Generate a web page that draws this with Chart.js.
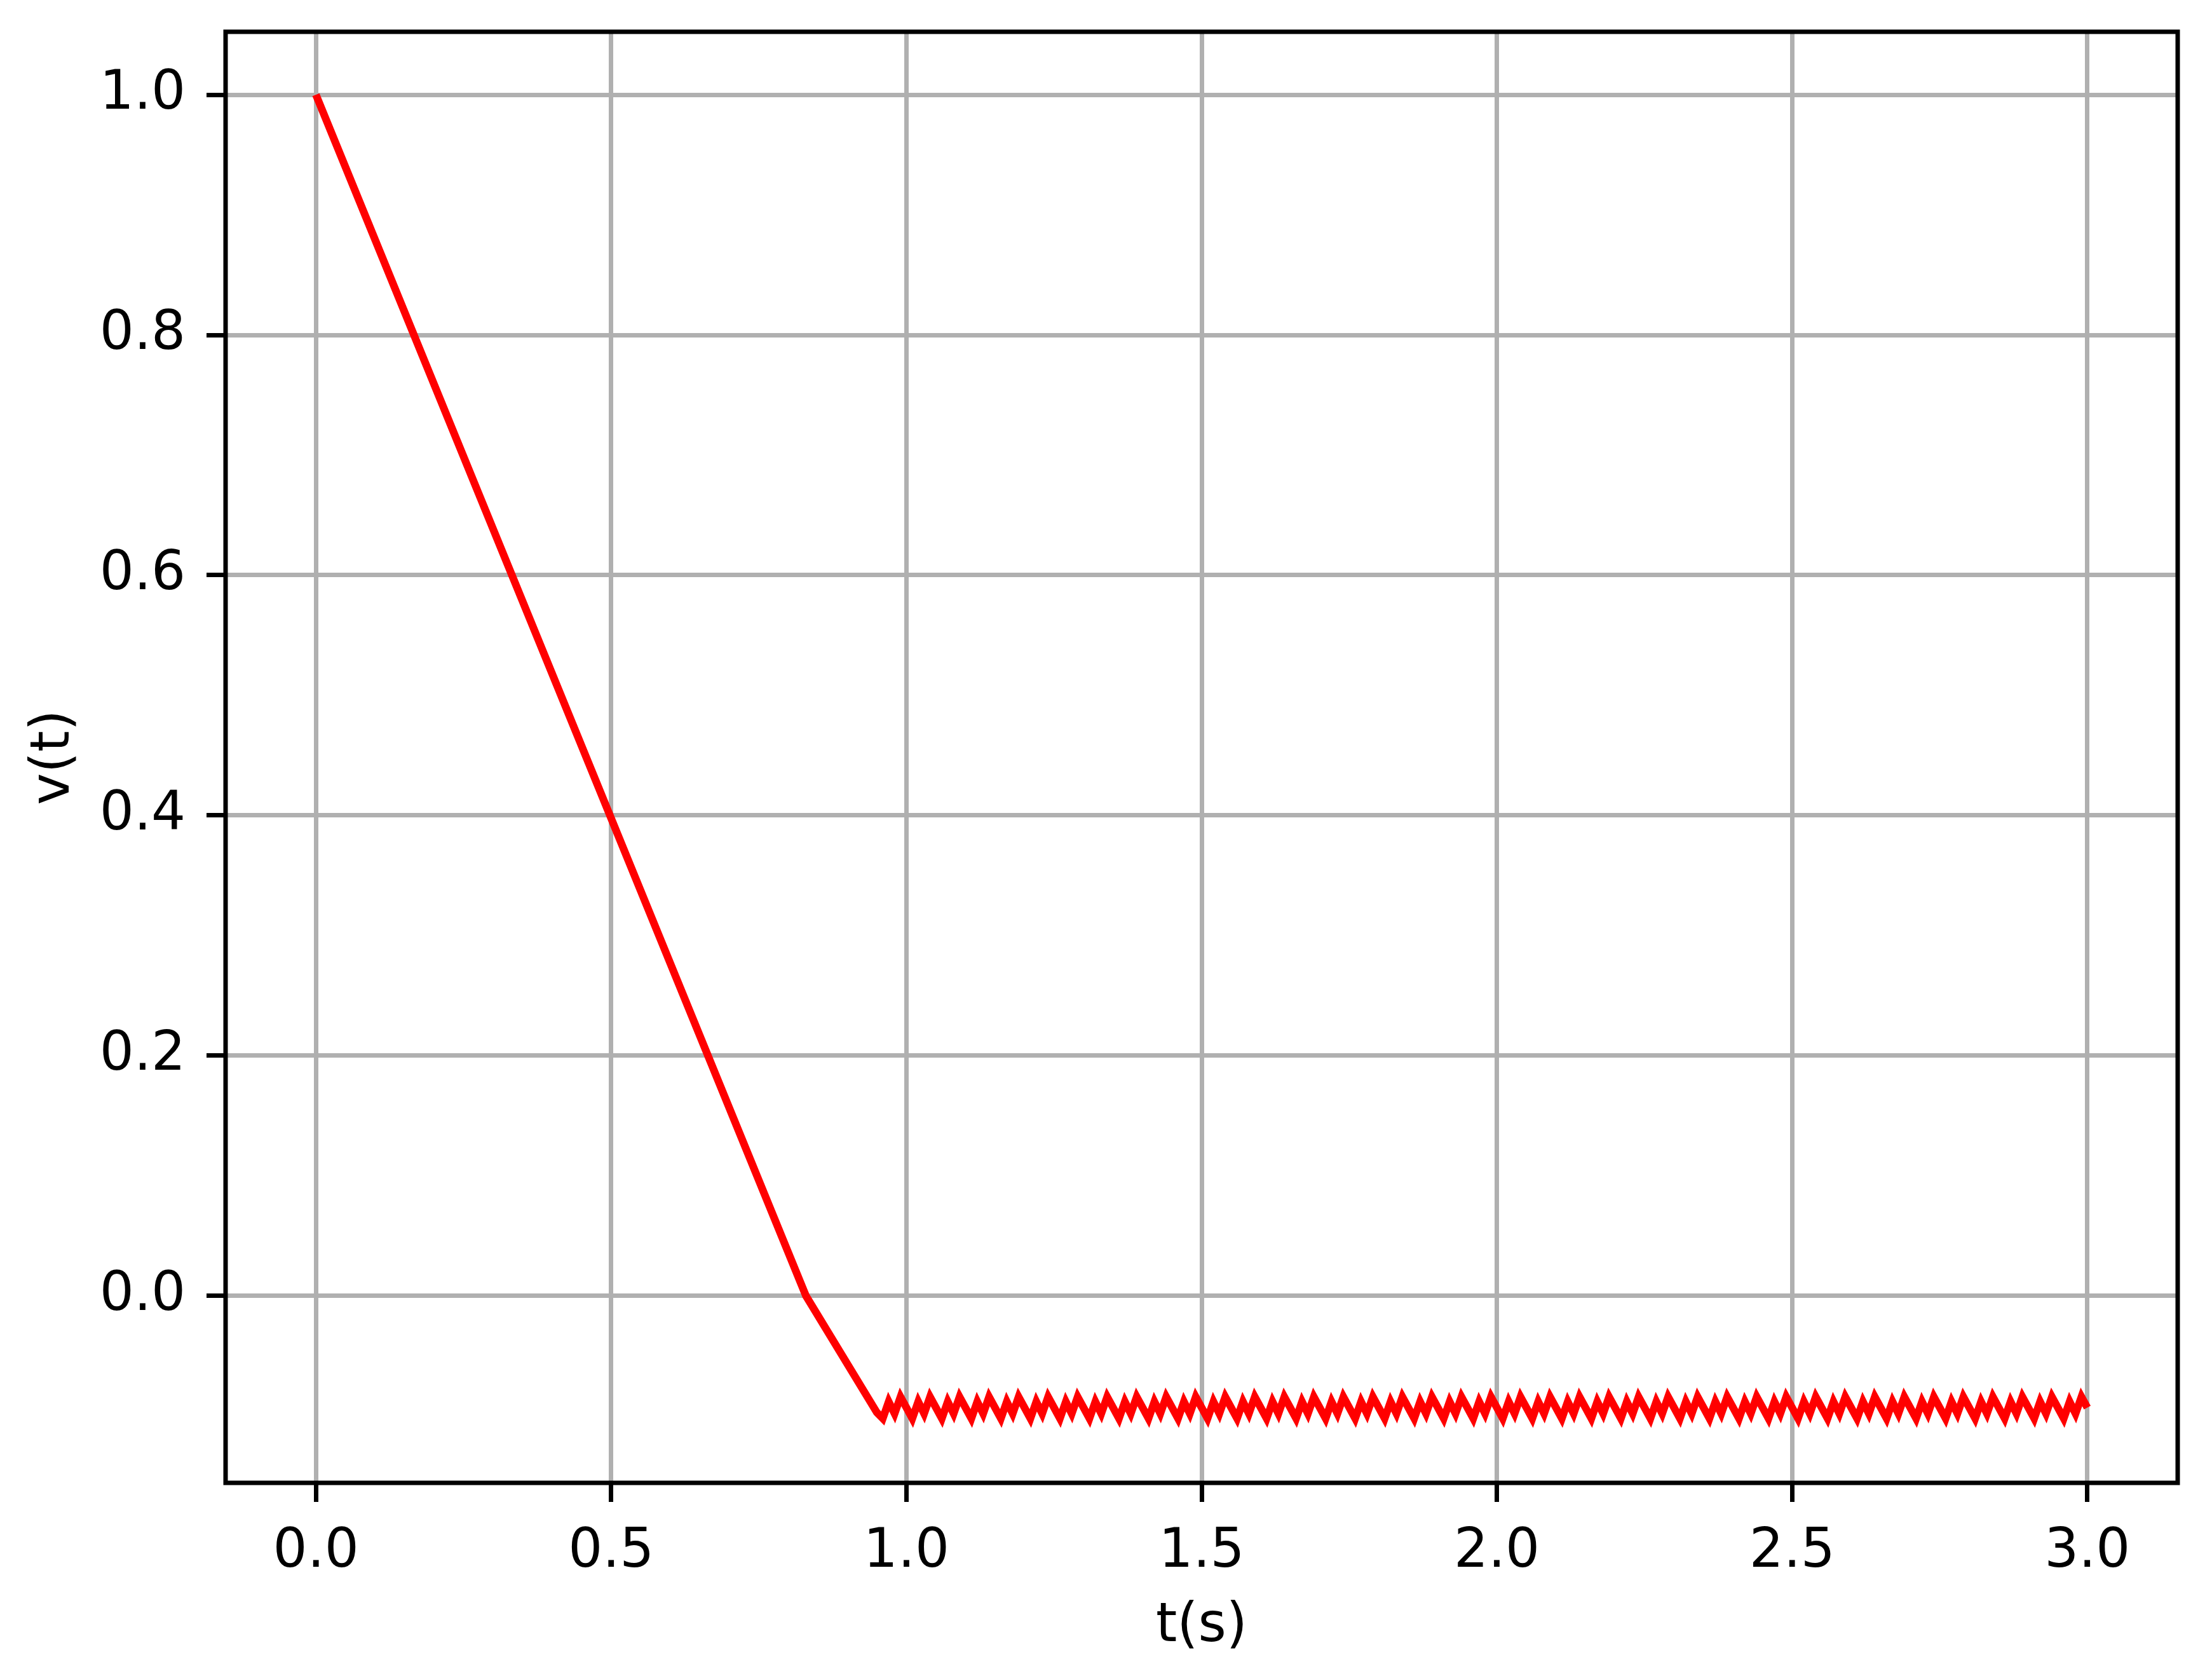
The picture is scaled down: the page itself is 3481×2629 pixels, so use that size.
<!DOCTYPE html>
<html>
<head>
<meta charset="utf-8">
<script src="https://cdn.jsdelivr.net/npm/chart.js@4/dist/chart.umd.min.js"></script>
<style>
  body { margin: 0; background: #fff; }
  canvas { display: block; }
</style>
</head>
<body>
<canvas id="myChart" width="3481" height="2629"></canvas>
<script>
// Ramp part of v(t): straight fall, then a kink near v = 0
var rampT = [0.0, 0.83, 0.95];
var rampV = [1.0, 0.0, -0.097];

// Chattering part (sample step 0.01 s)
var chatterT = [
  0.96, 0.97, 0.98, 0.99, 1.00, 1.01, 1.02, 1.03, 1.04, 1.05,
  1.06, 1.07, 1.08, 1.09, 1.10, 1.11, 1.12, 1.13, 1.14, 1.15,
  1.16, 1.17, 1.18, 1.19, 1.20, 1.21, 1.22, 1.23, 1.24, 1.25,
  1.26, 1.27, 1.28, 1.29, 1.30, 1.31, 1.32, 1.33, 1.34, 1.35,
  1.36, 1.37, 1.38, 1.39, 1.40, 1.41, 1.42, 1.43, 1.44, 1.45,
  1.46, 1.47, 1.48, 1.49, 1.50, 1.51, 1.52, 1.53, 1.54, 1.55,
  1.56, 1.57, 1.58, 1.59, 1.60, 1.61, 1.62, 1.63, 1.64, 1.65,
  1.66, 1.67, 1.68, 1.69, 1.70, 1.71, 1.72, 1.73, 1.74, 1.75,
  1.76, 1.77, 1.78, 1.79, 1.80, 1.81, 1.82, 1.83, 1.84, 1.85,
  1.86, 1.87, 1.88, 1.89, 1.90, 1.91, 1.92, 1.93, 1.94, 1.95,
  1.96, 1.97, 1.98, 1.99, 2.00, 2.01, 2.02, 2.03, 2.04, 2.05,
  2.06, 2.07, 2.08, 2.09, 2.10, 2.11, 2.12, 2.13, 2.14, 2.15,
  2.16, 2.17, 2.18, 2.19, 2.20, 2.21, 2.22, 2.23, 2.24, 2.25,
  2.26, 2.27, 2.28, 2.29, 2.30, 2.31, 2.32, 2.33, 2.34, 2.35,
  2.36, 2.37, 2.38, 2.39, 2.40, 2.41, 2.42, 2.43, 2.44, 2.45,
  2.46, 2.47, 2.48, 2.49, 2.50, 2.51, 2.52, 2.53, 2.54, 2.55,
  2.56, 2.57, 2.58, 2.59, 2.60, 2.61, 2.62, 2.63, 2.64, 2.65,
  2.66, 2.67, 2.68, 2.69, 2.70, 2.71, 2.72, 2.73, 2.74, 2.75,
  2.76, 2.77, 2.78, 2.79, 2.80, 2.81, 2.82, 2.83, 2.84, 2.85,
  2.86, 2.87, 2.88, 2.89, 2.90, 2.91, 2.92, 2.93, 2.94, 2.95,
  2.96, 2.97, 2.98, 2.99, 3.00
];
var chatterV = [
  -0.102, -0.088, -0.098, -0.084, -0.093, -0.102, -0.088, -0.098, -0.084, -0.093,
  -0.102, -0.088, -0.098, -0.084, -0.093, -0.102, -0.088, -0.098, -0.084, -0.093,
  -0.102, -0.088, -0.098, -0.084, -0.093, -0.102, -0.088, -0.098, -0.084, -0.093,
  -0.102, -0.088, -0.098, -0.084, -0.093, -0.102, -0.088, -0.098, -0.084, -0.093,
  -0.102, -0.088, -0.098, -0.084, -0.093, -0.102, -0.088, -0.098, -0.084, -0.093,
  -0.102, -0.088, -0.098, -0.084, -0.093, -0.102, -0.088, -0.098, -0.084, -0.093,
  -0.102, -0.088, -0.098, -0.084, -0.093, -0.102, -0.088, -0.098, -0.084, -0.093,
  -0.102, -0.088, -0.098, -0.084, -0.093, -0.102, -0.088, -0.098, -0.084, -0.093,
  -0.102, -0.088, -0.098, -0.084, -0.093, -0.102, -0.088, -0.098, -0.084, -0.093,
  -0.102, -0.088, -0.098, -0.084, -0.093, -0.102, -0.088, -0.098, -0.084, -0.093,
  -0.102, -0.088, -0.098, -0.084, -0.093, -0.102, -0.088, -0.098, -0.084, -0.093,
  -0.102, -0.088, -0.098, -0.084, -0.093, -0.102, -0.088, -0.098, -0.084, -0.093,
  -0.102, -0.088, -0.098, -0.084, -0.093, -0.102, -0.088, -0.098, -0.084, -0.093,
  -0.102, -0.088, -0.098, -0.084, -0.093, -0.102, -0.088, -0.098, -0.084, -0.093,
  -0.102, -0.088, -0.098, -0.084, -0.093, -0.102, -0.088, -0.098, -0.084, -0.093,
  -0.102, -0.088, -0.098, -0.084, -0.093, -0.102, -0.088, -0.098, -0.084, -0.093,
  -0.102, -0.088, -0.098, -0.084, -0.093, -0.102, -0.088, -0.098, -0.084, -0.093,
  -0.102, -0.088, -0.098, -0.084, -0.093, -0.102, -0.088, -0.098, -0.084, -0.093,
  -0.102, -0.088, -0.098, -0.084, -0.093, -0.102, -0.088, -0.098, -0.084, -0.093,
  -0.102, -0.088, -0.098, -0.084, -0.093, -0.102, -0.088, -0.098, -0.084, -0.093,
  -0.102, -0.088, -0.098, -0.084, -0.093
];

// Tick labels
var xTicks = [0.0, 0.5, 1.0, 1.5, 2.0, 2.5, 3.0];
var yTicks = [0.0, 0.2, 0.4, 0.6, 0.8, 1.0];

// Build the {x, y} list for the line
var points = [];
for (var i = 0; i < rampT.length; i++) {
    points.push({ x: rampT[i], y: rampV[i] });
}
for (var j = 0; j < chatterT.length; j++) {
    points.push({ x: chatterT[j], y: chatterV[j] });
}

var fontFamily = "'DejaVu Sans', sans-serif";
var fontSize = 85;

// Black box round the plot area, like the matplotlib spines
var framePlugin = {
    id: 'frame',
    afterDraw: function(chart) {
        var a = chart.chartArea;
        var ctx = chart.ctx;
        ctx.save();
        ctx.strokeStyle = '#000';
        ctx.lineWidth = 7;
        ctx.strokeRect(a.left, a.top, a.right - a.left, a.bottom - a.top);
        ctx.restore();
    }
};

var ctx = document.getElementById('myChart').getContext('2d');
var config = {
    type: 'line',
    data: {
        datasets: [{
            label: 'v(t)',
            data: points,
            borderColor: '#ff0000',
            borderWidth: 12,
            pointRadius: 0,
            tension: 0,
            fill: false
        }]
    },
    options: {
        responsive: false,
        animation: false,
        layout: { padding: { left: 0, top: 50, right: 54, bottom: 0 } },
        plugins: {
            legend: { display: false },
            tooltip: { enabled: false }
        },
        scales: {
            x: {
                type: 'linear',
                min: -0.153,
                max: 3.153,
                afterBuildTicks: function(scale) {
                    scale.ticks = xTicks.map(function(v) { return { value: v }; });
                },
                afterFit: function(scale) {
                    scale.height = 296;
                    scale.paddingLeft = 0;
                    scale.paddingRight = 0;
                },
                border: { display: false },
                grid: {
                    color: '#b0b0b0',
                    lineWidth: 7,
                    tickColor: '#000',
                    tickWidth: 7,
                    tickLength: 30
                },
                ticks: {
                    color: '#000',
                    padding: 29,
                    maxRotation: 0,
                    font: { family: fontFamily, size: fontSize },
                    callback: function(v) { return v.toFixed(1); }
                },
                title: {
                    display: true,
                    text: 't(s)',
                    color: '#000',
                    padding: { top: 0, bottom: 18 },
                    font: { family: fontFamily, size: fontSize }
                }
            },
            y: {
                type: 'linear',
                min: -0.1556,
                max: 1.0524,
                afterBuildTicks: function(scale) {
                    scale.ticks = yTicks.map(function(v) { return { value: v }; });
                },
                afterFit: function(scale) {
                    scale.width = 355;
                    scale.paddingTop = 0;
                    scale.paddingBottom = 0;
                },
                border: { display: false },
                grid: {
                    color: '#b0b0b0',
                    lineWidth: 7,
                    tickColor: '#000',
                    tickWidth: 7,
                    tickLength: 30
                },
                ticks: {
                    color: '#000',
                    padding: 33,
                    font: { family: fontFamily, size: fontSize },
                    callback: function(v) { return v.toFixed(1); }
                },
                title: {
                    display: true,
                    text: 'v(t)',
                    color: '#000',
                    padding: { top: 35, bottom: 0 },
                    font: { family: fontFamily, size: fontSize }
                }
            }
        }
    },
    plugins: [framePlugin]
};
var chart = new Chart(ctx, config);
</script>
</body>
</html>
